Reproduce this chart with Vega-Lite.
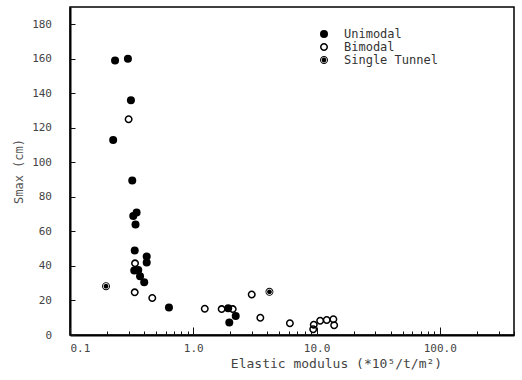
{
  "$schema": "https://vega.github.io/schema/vega-lite/v6.json",
  "width": 444,
  "height": 328,
  "autosize": {"type": "none"},
  "padding": {"left": 70, "top": 7, "right": 8, "bottom": 45},
  "background": "white",
  "config": {
    "view": {"stroke": "black", "strokeWidth": 1.5},
    "font": "DejaVu Sans Mono"
  },
  "data": {
    "values": [
      {"E": 0.232, "S": 159, "type": "Unimodal"},
      {"E": 0.295, "S": 160, "type": "Unimodal"},
      {"E": 0.312, "S": 136, "type": "Unimodal"},
      {"E": 0.224, "S": 113, "type": "Unimodal"},
      {"E": 0.32, "S": 89.5, "type": "Unimodal"},
      {"E": 0.326, "S": 69, "type": "Unimodal"},
      {"E": 0.347, "S": 71, "type": "Unimodal"},
      {"E": 0.34, "S": 64, "type": "Unimodal"},
      {"E": 0.335, "S": 49, "type": "Unimodal"},
      {"E": 0.419, "S": 45.5, "type": "Unimodal"},
      {"E": 0.419, "S": 42, "type": "Unimodal"},
      {"E": 0.332, "S": 37.3, "type": "Unimodal"},
      {"E": 0.358, "S": 37.7, "type": "Unimodal"},
      {"E": 0.37, "S": 34, "type": "Unimodal"},
      {"E": 0.4, "S": 30.5, "type": "Unimodal"},
      {"E": 0.635, "S": 16, "type": "Unimodal"},
      {"E": 1.92, "S": 15.5, "type": "Unimodal"},
      {"E": 2.21, "S": 11, "type": "Unimodal"},
      {"E": 1.96, "S": 7.3, "type": "Unimodal"},
      {"E": 0.299, "S": 125, "type": "Bimodal"},
      {"E": 0.337, "S": 41.5, "type": "Bimodal"},
      {"E": 0.335, "S": 24.7, "type": "Bimodal"},
      {"E": 0.465, "S": 21.4, "type": "Bimodal"},
      {"E": 1.24, "S": 15.2, "type": "Bimodal"},
      {"E": 1.7, "S": 15, "type": "Bimodal"},
      {"E": 2.09, "S": 15, "type": "Bimodal"},
      {"E": 2.98, "S": 23.5, "type": "Bimodal"},
      {"E": 3.5, "S": 10, "type": "Bimodal"},
      {"E": 6.08, "S": 6.8, "type": "Bimodal"},
      {"E": 9.5, "S": 6, "type": "Bimodal"},
      {"E": 9.4, "S": 3.3, "type": "Bimodal"},
      {"E": 10.7, "S": 8.3, "type": "Bimodal"},
      {"E": 12.1, "S": 8.7, "type": "Bimodal"},
      {"E": 13.7, "S": 9.1, "type": "Bimodal"},
      {"E": 13.9, "S": 5.6, "type": "Bimodal"},
      {"E": 0.196, "S": 28.3, "type": "Single Tunnel"},
      {"E": 4.15, "S": 25, "type": "Single Tunnel"}
    ]
  },
  "resolve": {"axis": {"x": "independent", "y": "independent"}},
  "layer": [
    {
      "mark": {"type": "point", "filled": true, "opacity": 1, "size": 64, "color": "black"},
      "encoding": {
        "x": {
          "field": "E",
          "type": "quantitative",
          "scale": {"type": "log", "domain": [0.1, 400], "nice": false},
          "axis": {
            "orient": "bottom",
            "title": "Elastic modulus (*10⁵/t/m²)",
            "tickCount": 3,
            "labelExpr": "format(datum.value, '.1f')",
            "gridOpacity": 0,
            "domainColor": "black",
            "domainWidth": 2,
            "ticks": true,
            "tickSize": 0.5,
            "tickColor": "black",
            "labelPadding": 7,
            "labelFontSize": 11,
            "labelColor": "#444",
            "labelFont": "DejaVu Sans Mono",
            "titleFont": "DejaVu Sans Mono",
            "titleFontSize": 13,
            "titleFontWeight": "normal",
            "titleColor": "#444",
            "titleAnchor": "middle",
            "titleX": 266,
            "titlePadding": 4
          }
        },
        "y": {
          "field": "S",
          "type": "quantitative",
          "scale": {"domain": [0, 190], "nice": false},
          "axis": {
            "orient": "left",
            "title": "Smax (cm)",
            "tickCount": 10,
            "gridOpacity": 0,
            "domainColor": "black",
            "domainWidth": 2,
            "ticks": true,
            "tickSize": 0.5,
            "tickColor": "black",
            "labelPadding": 18,
            "labelFontSize": 11,
            "labelColor": "#444",
            "labelFont": "DejaVu Sans Mono",
            "titleFont": "DejaVu Sans Mono",
            "titleFontSize": 12,
            "titleFontWeight": "normal",
            "titleColor": "#555",
            "titlePadding": 6
          }
        },
        "shape": {
          "field": "type",
          "type": "nominal",
          "scale": {
            "domain": ["Unimodal", "Bimodal", "Single Tunnel"],
            "range": [
              "circle",
              "M-1,0A1,1 0 1,0 1,0A1,1 0 1,0 -1,0ZM-0.62,0A0.62,0.62 0 1,1 0.62,0A0.62,0.62 0 1,1 -0.62,0Z",
              "M-1,0A1,1 0 1,0 1,0A1,1 0 1,0 -1,0ZM-0.78,0A0.78,0.78 0 1,1 0.78,0A0.78,0.78 0 1,1 -0.78,0ZM-0.6,0A0.6,0.6 0 1,0 0.6,0A0.6,0.6 0 1,0 -0.6,0Z"
            ]
          },
          "legend": {
            "title": null,
            "orient": "none",
            "legendX": 248,
            "legendY": 21,
            "padding": 0,
            "labelFont": "DejaVu Sans Mono",
            "labelFontSize": 12,
            "labelColor": "#333",
            "labelOffset": 14,
            "rowPadding": 1,
            "symbolSize": 64,
            "symbolFillColor": "black",
            "symbolStrokeWidth": 0
          }
        }
      }
    },
    {
      "mark": {"type": "point", "opacity": 0},
      "encoding": {
        "x": {
          "field": "E",
          "type": "quantitative",
          "axis": {
            "orient": "top",
            "offset": -328,
            "title": null,
            "labels": false,
            "domainOpacity": 0,
            "gridOpacity": 0,
            "ticks": true,
            "zindex": 1,
            "tickColor": "#111",
            "tickSize": 4
          }
        },
        "y": {
          "field": "S",
          "type": "quantitative",
          "axis": {
            "orient": "right",
            "offset": -444,
            "title": null,
            "labels": false,
            "domainOpacity": 0,
            "gridOpacity": 0,
            "ticks": true,
            "zindex": 1,
            "tickCount": 10,
            "tickColor": "#111",
            "tickSize": 5
          }
        }
      }
    },
    {
      "mark": {"type": "point", "opacity": 0},
      "encoding": {
        "x": {
          "field": "E",
          "type": "quantitative",
          "axis": {
            "orient": "top",
            "offset": -328,
            "title": null,
            "labels": false,
            "domainOpacity": 0,
            "gridOpacity": 0,
            "ticks": true,
            "zindex": 1,
            "tickCount": 3,
            "tickColor": "#111",
            "tickSize": 8
          }
        },
        "y": {
          "field": "S",
          "type": "quantitative",
          "axis": null
        }
      }
    }
  ]
}
